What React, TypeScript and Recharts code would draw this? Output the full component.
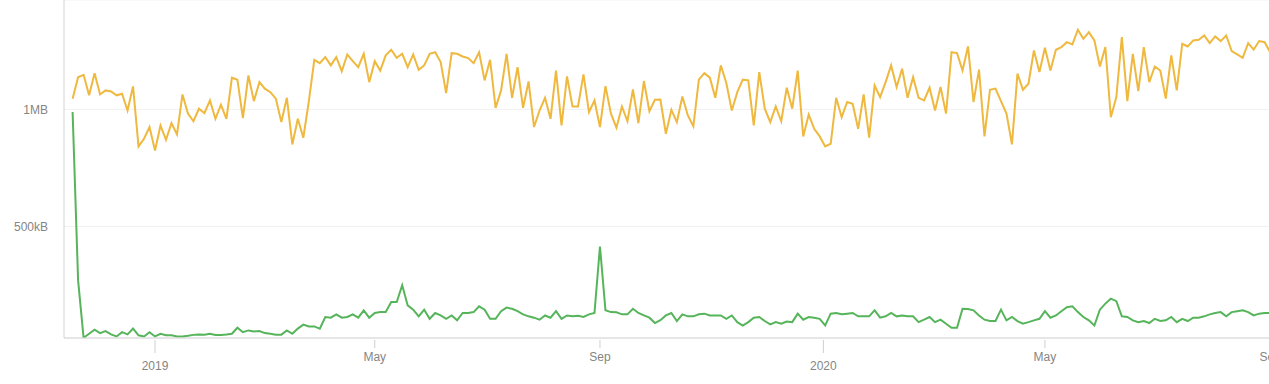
import { CartesianGrid, Line, LineChart, XAxis, YAxis } from 'recharts'

// weekly-ish samples, one every 3 days starting 2018-11-17
const START = Date.UTC(2018, 10, 17)
const STEP_DAYS = 3
const DAY = 86400000

// values in KB (1024 bytes)
const totalKB = [
  1072, 1168, 1179, 1087, 1186, 1091, 1109, 1104, 1087, 1094, 1019, 1127, 858, 893, 945, 840,
  952, 888, 962, 912, 1091, 1005, 971, 1027, 1007, 1064, 982, 1045, 982, 1166, 1157, 985,
  1176, 1061, 1146, 1117, 1101, 1072, 967, 1076, 867, 982, 897, 1060, 1246, 1231, 1258, 1221,
  1258, 1195, 1270, 1240, 1213, 1273, 1146, 1240, 1198, 1266, 1291, 1255, 1273, 1213, 1270, 1201,
  1221, 1273, 1280, 1236, 1097, 1276, 1273, 1261, 1254, 1231, 1280, 1154, 1246, 1031, 1109, 1273,
  1076, 1213, 1031, 1149, 945, 1019, 1076, 982, 1198, 952, 1172, 1037, 1037, 1181, 1012, 1064,
  945, 1128, 1005, 942, 1037, 971, 1113, 962, 1151, 1016, 1067, 1068, 915, 1022, 967, 1082,
  997, 948, 1157, 1186, 1166, 1076, 1221, 1142, 1019, 1101, 1157, 1154, 952, 1191, 1027, 967,
  1037, 971, 1121, 1027, 1198, 903, 1001, 937, 903, 858, 870, 1076, 989, 1057, 1049, 937,
  1091, 897, 1131, 1079, 1146, 1221, 1124, 1206, 1076, 1168, 1076, 1064, 1121, 1019, 1124, 1005,
  1280, 1276, 1198, 1306, 1057, 1202, 903, 1112, 1117, 1061, 1005, 867, 1184, 1112, 1139, 1288,
  1191, 1300, 1198, 1291, 1303, 1325, 1315, 1381, 1340, 1370, 1333, 1216, 1303, 989, 1079, 1348,
  1061, 1273, 1106, 1303, 1146, 1216, 1198, 1072, 1266, 1109, 1318, 1306, 1333, 1336, 1355, 1321,
  1351, 1330, 1355, 1285, 1270, 1255, 1321, 1292, 1330, 1325, 1280,
]

const jsKB = [
  1012, 258, 1, 19, 37, 22, 31, 16, 7, 26, 16, 42, 12, 7, 26, 7,
  19, 12, 12, 7, 7, 10, 14, 16, 15, 19, 14, 14, 16, 19, 46, 26,
  34, 29, 31, 22, 19, 15, 15, 34, 19, 42, 60, 52, 52, 42, 94, 91,
  106, 91, 94, 106, 91, 124, 91, 112, 116, 116, 161, 161, 236, 146, 127, 97,
  127, 86, 112, 101, 86, 101, 79, 112, 112, 116, 142, 127, 86, 86, 120, 136,
  131, 120, 106, 97, 91, 82, 101, 91, 120, 86, 101, 97, 100, 94, 106, 112,
  410, 124, 116, 115, 106, 106, 131, 112, 101, 91, 67, 80, 101, 112, 76, 106,
  97, 97, 106, 109, 101, 101, 101, 86, 101, 71, 56, 71, 91, 94, 76, 61,
  71, 64, 74, 71, 109, 82, 94, 91, 86, 56, 109, 112, 106, 109, 112, 97,
  97, 97, 124, 91, 97, 112, 97, 101, 97, 97, 71, 82, 94, 71, 82, 64,
  46, 46, 131, 130, 124, 101, 82, 76, 76, 127, 79, 94, 76, 64, 71, 79,
  86, 120, 91, 101, 120, 138, 142, 116, 94, 79, 56, 127, 154, 176, 165, 97,
  94, 79, 71, 76, 67, 86, 76, 79, 94, 71, 86, 76, 91, 91, 97, 106,
  112, 116, 97, 116, 120, 124, 116, 101, 109, 112, 112,
]

const xTicks = [
  Date.UTC(2019, 0, 1),
  Date.UTC(2019, 4, 1),
  Date.UTC(2019, 8, 1),
  Date.UTC(2020, 0, 1),
  Date.UTC(2020, 4, 1),
  Date.UTC(2020, 8, 1),
]
const yTicks = [500, 1024]
const MONTHS = ['Jan', 'Feb', 'Mar', 'Apr', 'May', 'Jun', 'Jul', 'Aug', 'Sep', 'Oct', 'Nov', 'Dec']

const data = totalKB.map((total, i) => ({
  t: START + i * STEP_DAYS * DAY,
  total,
  js: jsKB[i],
}))

const X_MIN = Date.UTC(2019, 0, 1) - 49.7 * DAY
const X_MAX = X_MIN + 675 * DAY

function formatSize(v: number) {
  return v >= 1024 ? `${v / 1024}MB` : `${v}kB`
}

function DateTick({ x, y, payload }: { x?: number; y?: number; payload?: any }) {
  const d = new Date(payload.value)
  const m = d.getUTCMonth()
  const major = m === 0
  return (
    <g>
      <line x1={x} x2={x} y1={(y ?? 0) + 2} y2={(y ?? 0) + (major ? 15 : 10)} stroke="#cfcfcf" />
      <text
        x={x}
        y={(y ?? 0) + (major ? 32 : 23)}
        textAnchor="middle"
        fill="#858585"
        fontSize={12}
      >
        {major ? d.getUTCFullYear() : MONTHS[m]}
      </text>
    </g>
  )
}

export default function App() {
  return (
    <div
      style={{
        position: 'absolute',
        left: 0,
        top: 0,
        width: 1269,
        height: 384,
        overflow: 'hidden',
        background: '#fff',
        fontFamily: '"Helvetica Neue", Helvetica, Arial, sans-serif',
      }}
    >
      <LineChart
        width={1300}
        height={384}
        data={data}
        margin={{ top: 0, right: 0, left: 0, bottom: 0 }}
      >
        <CartesianGrid vertical={false} stroke="#f1f1f1" />
        <XAxis
          dataKey="t"
          type="number"
          domain={[X_MIN, X_MAX]}
          ticks={xTicks}
          interval={0}
          height={46}
          tickSize={0}
          tickMargin={0}
          tickLine={false}
          axisLine={{ stroke: '#d4d4d4' }}
          tick={<DateTick />}
          allowDataOverflow
        />
        <YAxis
          type="number"
          domain={[0, 1514]}
          ticks={yTicks}
          width={64}
          tickSize={0}
          tickMargin={16}
          tickLine={false}
          axisLine={{ stroke: '#d4d4d4' }}
          tickFormatter={formatSize}
          tick={{ fontSize: 12, fill: '#858585' }}
          allowDataOverflow
        />
        <Line
          type="linear"
          dataKey="total"
          stroke="#efb83e"
          strokeWidth={2}
          dot={false}
          isAnimationActive={false}
        />
        <Line
          type="linear"
          dataKey="js"
          stroke="#56b45a"
          strokeWidth={2}
          dot={false}
          isAnimationActive={false}
        />
      </LineChart>
    </div>
  )
}
